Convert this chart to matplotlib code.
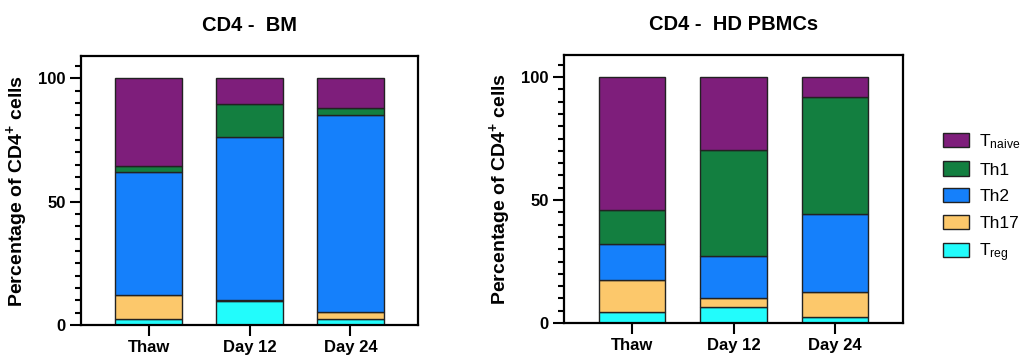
import numpy as np
import matplotlib
matplotlib.use("Agg")
import matplotlib.pyplot as plt
from matplotlib.patches import Patch
from matplotlib.ticker import MultipleLocator

plt.rcParams.update({
    "font.family": "Liberation Sans",
    "mathtext.fontset": "custom",
    "mathtext.rm": "Liberation Sans",
    "mathtext.bf": "Liberation Sans:bold",
    "mathtext.it": "Liberation Sans:italic",
})

timepoints = ["Thaw", "Day 12", "Day 24"]
subsets = ["Treg", "Th17", "Th2", "Th1", "Tnaive"]
legend_labels = {"Tnaive": r"T$_{\mathrm{naive}}$", "Th1": "Th1", "Th2": "Th2",
                 "Th17": "Th17", "Treg": r"T$_{\mathrm{reg}}$"}
colors = {"Tnaive": "#7E1E7B", "Th1": "#137F40", "Th2": "#1580FB",
          "Th17": "#FCC86B", "Treg": "#22FCFC"}

# percentage of CD4+ cells per subset, stacked bottom->top
bm_treg = [2.6, 9.9, 2.3]
bm_th17 = [9.7, 0.4, 2.8]
bm_th2 = [49.7, 65.8, 79.8]
bm_th1 = [2.3, 13.5, 2.9]
bm_naive = [35.7, 10.4, 12.2]

pb_treg = [4.6, 6.5, 2.3]
pb_th17 = [12.8, 3.5, 10.3]
pb_th2 = [14.9, 17.1, 31.9]
pb_th1 = [13.6, 43.2, 47.4]
pb_naive = [54.1, 29.7, 8.1]

panels = [
    ("CD4 -  BM", [bm_treg, bm_th17, bm_th2, bm_th1, bm_naive], [81, 56, 418, 325]),
    ("CD4 -  HD PBMCs", [pb_treg, pb_th17, pb_th2, pb_th1, pb_naive], [564, 55, 903, 323]),
]

W, H = 1031, 360
fig = plt.figure(figsize=(W / 100, H / 100), dpi=100)

x = np.arange(len(timepoints))
for title, stack, (x0, y0, x1, y1) in panels:
    ax = fig.add_axes([x0 / W, 1 - y1 / H, (x1 - x0) / W, (y1 - y0) / H])
    bottom = np.zeros(len(timepoints))
    for name, vals in zip(subsets, stack):
        vals = np.array(vals)
        ax.bar(x, vals, bottom=bottom, width=0.66, color=colors[name],
               edgecolor="#222222", linewidth=1.0, zorder=2)
        bottom += vals
    ax.set_xlim(-0.67, 2.67)
    ax.set_ylim(0, 109)
    ax.set_xticks(x)
    ax.set_xticklabels(timepoints, fontsize=12, fontweight="bold")
    ax.set_yticks([0, 50, 100])
    ax.set_yticklabels(["0", "50", "100"], fontsize=12, fontweight="bold")
    ax.yaxis.set_minor_locator(MultipleLocator(5))
    ax.tick_params(axis="both", which="major", length=8, width=1.5, direction="out", pad=3)
    ax.tick_params(axis="y", which="minor", length=4.5, width=1.5)
    for sp in ax.spines.values():
        sp.set_linewidth(1.6)
    ax.set_ylabel(r"Percentage of CD4$^{\mathbf{+}}$ cells", fontsize=14,
                  fontweight="bold", labelpad=6)
    ax.set_title(title, fontsize=14.5, fontweight="bold", pad=18)

handles = [Patch(facecolor=colors[n], edgecolor="#222222", linewidth=1.0)
           for n in subsets[::-1]]
fig.legend(handles, [legend_labels[n] for n in subsets[::-1]],
           loc="center left", bbox_to_anchor=(943 / W, 1 - 198 / H),
           frameon=False, fontsize=12.5, borderpad=0, borderaxespad=0,
           handlelength=1.5, handleheight=0.9, labelspacing=0.6,
           handletextpad=0.6)

fig.savefig("out.png", dpi=100)
